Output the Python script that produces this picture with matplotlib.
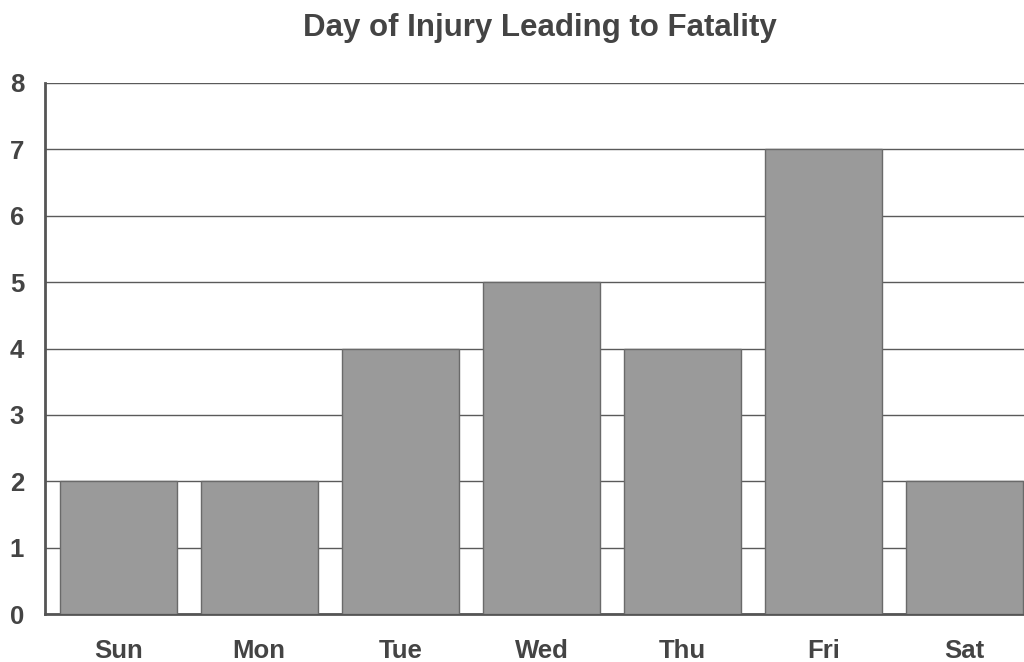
import numpy as np
import matplotlib.pyplot as plt

days = ['Sun', 'Mon', 'Tue', 'Wed', 'Thu', 'Fri', 'Sat']
fatalities = [2, 2, 4, 5, 4, 7, 2]
yticks = [0, 1, 2, 3, 4, 5, 6, 7, 8]

plt.rcParams['font.family'] = ['Liberation Sans', 'DejaVu Sans']
plt.rcParams['font.weight'] = 'bold'

fig = plt.figure(figsize=(10.24, 6.62), dpi=100)
ax = fig.add_axes([45/1024, 48/662, 1 - 45/1024, 531/662])

x = np.arange(len(days))
ax.bar(x, fatalities, width=0.83, color='#9a9a9a', edgecolor='#6a6a6a',
       linewidth=1, zorder=3)

ax.set_ylim(0, 8)
ax.set_xlim(-0.518, 6.42)
ax.set_yticks(yticks)
ax.set_xticks(x)
ax.set_xticklabels(days)
ax.yaxis.grid(True, color='#5a5a5a', linewidth=1, zorder=0)
ax.set_axisbelow(True)

for s in ['top', 'right']:
    ax.spines[s].set_visible(False)
for s in ['left', 'bottom']:
    ax.spines[s].set_color('#555555')
    ax.spines[s].set_linewidth(2)

ax.tick_params(axis='both', length=0, labelsize=18.5, colors='#444444')
ax.tick_params(axis='x', pad=18)
ax.tick_params(axis='y', pad=15)

fig.text(0.527, 0.958, 'Day of Injury Leading to Fatality', fontsize=22.5,
         fontweight='bold', color='#444444', ha='center', va='center')

fig.savefig('out.png', dpi=100)
